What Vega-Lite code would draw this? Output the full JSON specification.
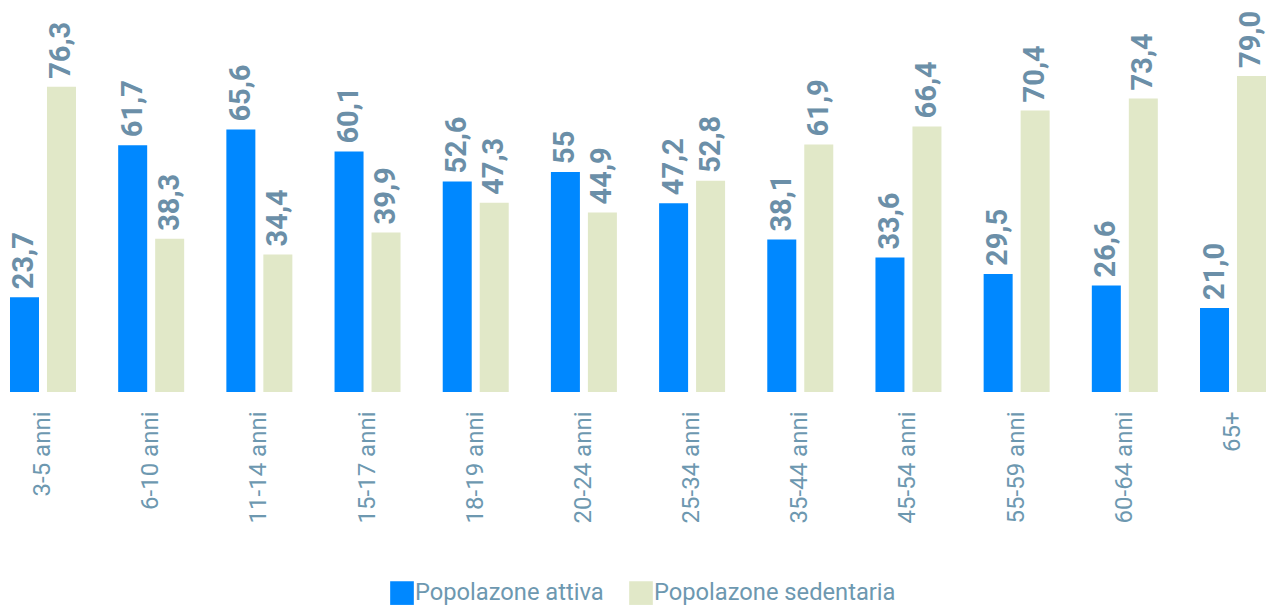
{
  "$schema": "https://vega.github.io/schema/vega-lite/v6.json",
  "width": 1266,
  "height": 392,
  "autosize": {"type": "none"},
  "padding": {"left": 0, "top": 0, "right": 0, "bottom": 213},
  "background": "white",
  "config": {"view": {"stroke": null}, "font": "Roboto"},
  "data": {"values": [
    {"cat": "3-5 anni", "serie": "Popolazone attiva", "v": 23.7, "label": "23,7"},
    {"cat": "3-5 anni", "serie": "Popolazone sedentaria", "v": 76.3, "label": "76,3"},
    {"cat": "6-10 anni", "serie": "Popolazone attiva", "v": 61.7, "label": "61,7"},
    {"cat": "6-10 anni", "serie": "Popolazone sedentaria", "v": 38.3, "label": "38,3"},
    {"cat": "11-14 anni", "serie": "Popolazone attiva", "v": 65.6, "label": "65,6"},
    {"cat": "11-14 anni", "serie": "Popolazone sedentaria", "v": 34.4, "label": "34,4"},
    {"cat": "15-17 anni", "serie": "Popolazone attiva", "v": 60.1, "label": "60,1"},
    {"cat": "15-17 anni", "serie": "Popolazone sedentaria", "v": 39.9, "label": "39,9"},
    {"cat": "18-19 anni", "serie": "Popolazone attiva", "v": 52.6, "label": "52,6"},
    {"cat": "18-19 anni", "serie": "Popolazone sedentaria", "v": 47.3, "label": "47,3"},
    {"cat": "20-24 anni", "serie": "Popolazone attiva", "v": 55, "label": "55"},
    {"cat": "20-24 anni", "serie": "Popolazone sedentaria", "v": 44.9, "label": "44,9"},
    {"cat": "25-34 anni", "serie": "Popolazone attiva", "v": 47.2, "label": "47,2"},
    {"cat": "25-34 anni", "serie": "Popolazone sedentaria", "v": 52.8, "label": "52,8"},
    {"cat": "35-44 anni", "serie": "Popolazone attiva", "v": 38.1, "label": "38,1"},
    {"cat": "35-44 anni", "serie": "Popolazone sedentaria", "v": 61.9, "label": "61,9"},
    {"cat": "45-54 anni", "serie": "Popolazone attiva", "v": 33.6, "label": "33,6"},
    {"cat": "45-54 anni", "serie": "Popolazone sedentaria", "v": 66.4, "label": "66,4"},
    {"cat": "55-59 anni", "serie": "Popolazone attiva", "v": 29.5, "label": "29,5"},
    {"cat": "55-59 anni", "serie": "Popolazone sedentaria", "v": 70.4, "label": "70,4"},
    {"cat": "60-64 anni", "serie": "Popolazone attiva", "v": 26.6, "label": "26,6"},
    {"cat": "60-64 anni", "serie": "Popolazone sedentaria", "v": 73.4, "label": "73,4"},
    {"cat": "65+", "serie": "Popolazone attiva", "v": 21.0, "label": "21,0"},
    {"cat": "65+", "serie": "Popolazone sedentaria", "v": 79.0, "label": "79,0"}
  ]},
  "encoding": {
    "x": {
      "field": "cat", "type": "nominal", "sort": null,
      "scale": {"paddingInner": 0.39, "paddingOuter": 0.0462, "align": 1},
      "axis": {"title": null, "domain": false, "ticks": false, "labelAngle": 270, "labelAlign": "right", "labelBaseline": "middle", "labelPadding": 19, "labelFontSize": 24, "labelColor": "#6d98b0", "labelFont": "Roboto"}
    },
    "xOffset": {"field": "serie", "type": "nominal", "scale": {"paddingInner": 0.216, "paddingOuter": 0}},
    "y": {"field": "v", "type": "quantitative", "scale": {"domain": [0, 98], "nice": false, "zero": true}, "axis": null}
  },
  "layer": [
    {
      "mark": {"type": "bar"},
      "encoding": {
        "color": {
          "field": "serie", "type": "nominal",
          "scale": {"domain": ["Popolazone attiva", "Popolazone sedentaria"], "range": ["#0088ff", "#e1e8c8"]},
          "legend": {"title": null, "orient": "none", "legendX": 390, "legendY": 581, "direction": "horizontal", "symbolType": "square", "symbolSize": 560, "symbolStrokeWidth": 0, "symbolOpacity": 1, "labelFontSize": 23.7, "labelLimit": 500, "labelColor": "#6d98b0", "labelFont": "Roboto", "labelOffset": 1, "columnPadding": 25}
        }
      }
    },
    {
      "mark": {"type": "text", "angle": 270, "align": "left", "baseline": "middle", "dx": 8, "fontSize": 29, "fontWeight": "bold", "color": "#6b8fa8", "font": "Roboto"},
      "encoding": {"text": {"field": "label"}}
    }
  ]
}
